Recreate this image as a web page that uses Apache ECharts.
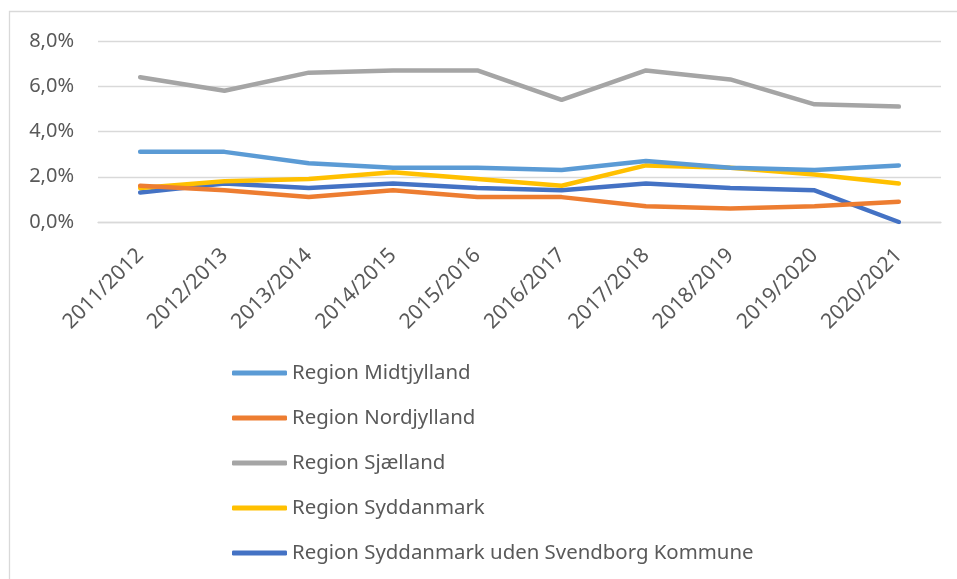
<!DOCTYPE html>
<html>
<head>
<meta charset="utf-8">
<script src="https://cdn.jsdelivr.net/npm/echarts@6/dist/echarts.min.js"></script>
<style>
  html, body { margin: 0; padding: 0; background: #fff; }
  #chart { width: 957px; height: 579px; }
</style>
</head>
<body>
<div id="chart"></div>
<script>
// skoleår
var categories = ['2011/2012', '2012/2013', '2013/2014', '2014/2015', '2015/2016',
  '2016/2017', '2017/2018', '2018/2019', '2019/2020', '2020/2021'];

// værdier i procent
var midtjylland = [3.1, 3.1, 2.6, 2.4, 2.4, 2.3, 2.7, 2.4, 2.3, 2.5];
var nordjylland = [1.6, 1.4, 1.1, 1.4, 1.1, 1.1, 0.7, 0.6, 0.7, 0.9];
var sjaelland = [6.4, 5.8, 6.6, 6.7, 6.7, 5.4, 6.7, 6.3, 5.2, 5.1];
var syddanmark = [1.5, 1.8, 1.9, 2.2, 1.9, 1.6, 2.5, 2.4, 2.1, 1.7];
var syddanmarkUdenSvendborg = [1.3, 1.7, 1.5, 1.7, 1.5, 1.4, 1.7, 1.5, 1.4, 0.0];

var seriesNames = ['Region Midtjylland', 'Region Nordjylland', 'Region Sjælland',
  'Region Syddanmark', 'Region Syddanmark uden Svendborg Kommune'];
var seriesData = [midtjylland, nordjylland, sjaelland, syddanmark, syddanmarkUdenSvendborg];
var colors = ['#5B9BD5', '#ED7D31', '#A5A5A5', '#FFC000', '#4472C4'];

var font = 'Noto Sans';
var textColor = '#595959';

var chart = echarts.init(document.getElementById('chart'));

var series = [];
for (var i = 0; i < seriesNames.length; i++) {
  series.push({
    name: seriesNames[i],
    type: 'line',
    data: seriesData[i],
    showSymbol: false,
    symbol: 'none',
    lineStyle: { width: 4.5, color: colors[i], cap: 'round', join: 'round' },
    itemStyle: { color: colors[i] },
    z: 10 - i
  });
}

var option = {
  animation: false,
  color: colors,
  graphic: [{
    type: 'rect',
    shape: { x: 9.5, y: 11.5, width: 980, height: 600 },
    style: { fill: 'none', stroke: '#D9D9D9', lineWidth: 1.3 },
    silent: true
  }],
  grid: {
    left: 98,
    right: 16,
    top: 41,
    bottom: 357
  },
  xAxis: {
    type: 'category',
    data: categories,
    boundaryGap: true,
    axisLine: { lineStyle: { color: '#D9D9D9', width: 1.3 } },
    axisTick: { show: false },
    axisLabel: {
      rotate: 45,
      margin: 30,
      interval: 0,
      color: textColor,
      fontFamily: font,
      fontSize: 21
    }
  },
  yAxis: {
    type: 'value',
    min: 0,
    max: 8,
    interval: 2,
    axisLine: { show: false },
    axisTick: { show: false },
    splitLine: { lineStyle: { color: '#D9D9D9', width: 1.3 } },
    axisLabel: {
      margin: 24,
      color: textColor,
      fontFamily: font,
      fontSize: 20,
      formatter: function (v) {
        return v.toFixed(1).replace('.', ',') + '%';
      }
    }
  },
  legend: {
    orient: 'vertical',
    left: 227,
    top: 356,
    itemWidth: 55,
    itemHeight: 5,
    itemGap: 21,
    icon: 'roundRect',
    data: seriesNames,
    textStyle: {
      color: textColor,
      fontFamily: font,
      fontSize: 20.4,
      lineHeight: 24
    }
  },
  series: series
};

chart.setOption(option);
</script>
</body>
</html>
